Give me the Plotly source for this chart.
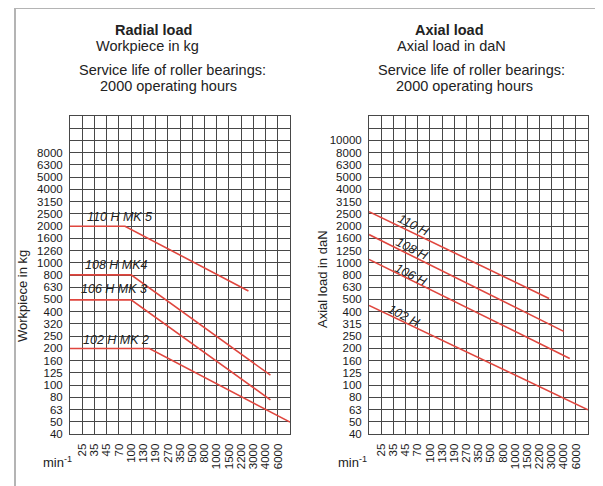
import plotly.graph_objects as go
import numpy as np

# ---- data ----
speed_labels = ["25", "35", "45", "70", "100", "130", "190", "270", "350", "500",
                "800", "1000", "1500", "2200", "3000", "4000", "6000"]
radial_load_labels = ["40", "50", "63", "80", "100", "125", "160", "200", "250", "320",
                      "400", "500", "630", "800", "1000", "1260", "1600", "2000", "2500",
                      "3150", "4000", "5000", "6300", "8000"]
axial_load_labels = ["40", "50", "63", "80", "100", "125", "160", "200", "250", "315",
                     "400", "500", "630", "800", "1000", "1250", "1600", "2000", "2500",
                     "3150", "4000", "5000", "6300", "8000", "10000"]

# speed given as position on the speed scale (25 rpm = 1, 35 rpm = 2, ...)
radial_names = ["110 H MK 5", "108 H MK4", "106 H MK 3", "102 H MK 2"]
radial_speed = [[0, 4.5, 14.6], [0, 5.0, 16.4], [0, 5.0, 16.4], [0, 6.5, 18.0]]
radial_load = [[2000, 2000, 590], [800, 800, 121], [500, 500, 76], [200, 200, 50]]

axial_names = ["110 H", "108 H", "106 H", "102 H"]
axial_speed = [[0, 14.8], [0, 16.0], [0, 16.5], [0, 18.0]]
axial_load = [[2630, 513], [1710, 276], [1070, 166], [450, 63]]

OFF = 8  # page body margin
W, H = 603 - OFF, 486 - OFF
RED = "#e0463e"
GRID = "#474747"
FONT = "Liberation Sans, Arial, sans-serif"

n_rows = 26
row_vals = [40 * 10 ** (k / 10) for k in range(n_rows + 1)]

def px(x):
    return (x - OFF) / W

def py(y):
    return 1 - (y - OFF) / H

fig = go.Figure()

for names, sp, ld, xa, ya in [(radial_names, radial_speed, radial_load, "x", "y"),
                              (axial_names, axial_speed, axial_load, "x2", "y2")]:
    for n, s, l in zip(names, sp, ld):
        fig.add_trace(go.Scatter(x=s, y=l, mode="lines", name=n, xaxis=xa, yaxis=ya,
                                 line=dict(color=RED, width=1.6), showlegend=False,
                                 hoverinfo="skip"))

x_tickvals = list(range(0, 19))
x_ticktext = [""] + speed_labels + [""]

def ytext(labels):
    return labels + [""] * (n_rows + 1 - len(labels))

axis_common = dict(showgrid=True, gridcolor=GRID, gridwidth=1, zeroline=False,
                   showline=True, linecolor=GRID, linewidth=1, mirror=True,
                   ticks="outside", ticklen=4, tickcolor="rgba(0,0,0,0)",
                   automargin=False,
                   tickfont=dict(family=FONT, size=11.5, color="#1a1a1a"))

fig.update_layout(
    width=W, height=H, margin=dict(l=0, r=0, t=0, b=0),
    paper_bgcolor="white", plot_bgcolor="white",
    xaxis=dict(domain=[px(70), px(290)], range=[0, 18], tickvals=x_tickvals,
               ticktext=x_ticktext, tickangle=-90, anchor="y", **axis_common),
    yaxis=dict(domain=[py(434), py(116)], type="log",
               range=[np.log10(row_vals[0]), np.log10(row_vals[-1])],
               tickvals=row_vals, ticktext=ytext(radial_load_labels), anchor="x",
               **axis_common),
    xaxis2=dict(domain=[px(369), px(588)], range=[0, 18], tickvals=x_tickvals,
                ticktext=x_ticktext, tickangle=-90, anchor="y2", **axis_common),
    yaxis2=dict(domain=[py(434), py(116)], type="log",
                range=[np.log10(row_vals[0]), np.log10(row_vals[-1])],
                tickvals=row_vals, ticktext=ytext(axial_load_labels), anchor="x2",
                **axis_common),
)

ann = []
def text(x, y, t, size=14.5, bold=False, angle=0, color="#222"):
    if bold:
        t = "<b>" + t + "</b>"
    ann.append(dict(x=px(x), y=py(y), xref="paper", yref="paper", text=t,
                    showarrow=False, textangle=angle,
                    font=dict(family=FONT, size=size, color=color),
                    xanchor="center", yanchor="middle"))

# headers
text(153, 30, "Radial load", bold=True)
text(147, 46, "Workpiece in kg")
text(172, 70, "Service life of roller bearings:")
text(168, 86, "2000 operating hours")
text(449, 30, "Axial load", bold=True)
text(451, 46, "Axial load in daN")
text(471, 70, "Service life of roller bearings:")
text(464, 86, "2000 operating hours")

# axis titles
text(22, 296, "Workpiece in kg", size=13, angle=-90)
text(322, 279, "Axial load in daN", size=13, angle=-90)
text(57, 462, "min<sup>-1</sup>", size=13)
text(352, 462, "min<sup>-1</sup>", size=13)

# curve labels
def curve_label(x, y, t, angle=0):
    ann.append(dict(x=px(x), y=py(y), xref="paper", yref="paper",
                    text="<i>" + t + "</i>", showarrow=False, textangle=angle,
                    font=dict(family=FONT, size=12.5, color="#222"),
                    xanchor="center", yanchor="middle"))

curve_label(119, 217, "110 H MK 5")
curve_label(116, 265, "108 H MK4")
curve_label(114, 289, "106 H MK 3")
curve_label(116, 340, "102 H MK 2")
curve_label(413, 225, "110 H", 27)
curve_label(412, 249, "108 H", 27)
curve_label(411, 275, "106 H", 27)
curve_label(404, 316, "102 H", 27)

fig.update_layout(annotations=ann)

# light outer frame
fig.add_shape(type="line", xref="paper", yref="paper", x0=px(15), x1=px(15),
              y0=py(8), y1=0, line=dict(color="#b4b4b4", width=2))
fig.add_shape(type="line", xref="paper", yref="paper", x0=px(15), x1=1,
              y0=py(8), y1=py(8), line=dict(color="#b4b4b4", width=2))

fig.write_html("out.html")
